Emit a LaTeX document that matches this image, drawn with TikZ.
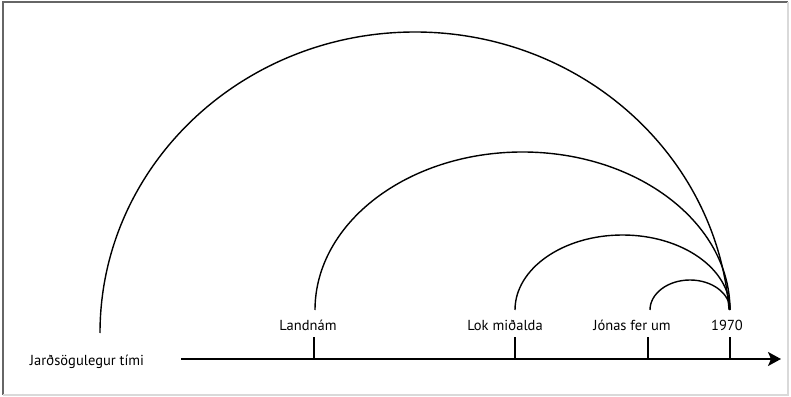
\documentclass[tikz,border=0pt]{standalone}
\usepackage{fontspec}
\setmainfont{PT Sans}
\usetikzlibrary{arrows.meta}

\begin{document}
\begin{tikzpicture}[x=1pt, y=1pt,
  lbl/.style={font=\fontsize{14.5}{16}\selectfont, inner sep=0pt, anchor=base},
  axisline/.style={-{Stealth[length=13pt, width=14pt, inset=3pt]}, line width=1.8pt},
  tickmark/.style={line width=1.6pt},
  bow/.style={line width=1.4pt},
  frameline/.style={line width=1.4pt}
]
\useasboundingbox (0,0) rectangle (791,396);
% frame
\draw[frameline, draw=black!60] (3,1) -- (3,394) -- (788,394);
\draw[frameline, draw=black!15] (3,1) -- (788,1) -- (788,394);

% time axis
\node[lbl] (geo) at (87,31) {Jarðsögulegur tími};
\coordinate (start) at (181,37);
\coordinate (stop) at (781,37);
\draw[axisline] (start) -- (stop);

% events on the axis
\coordinate (landnam) at (314,37);
\coordinate (midald) at (515,37);
\coordinate (jonas) at (648,37);
\coordinate (now) at (730,37);
\foreach \p in {landnam, midald, jonas, now}
  \draw[tickmark] (\p) -- ++(0,22);

\node[lbl] (landnamlbl) at (308,66) {Landnám};
\node[lbl] (midaldlbl) at (505,66) {Lok miðalda};
\node[lbl] (jonaslbl) at (632,66) {Jónas fer um};
\node[lbl] (nowlbl) at (727,66) {1970};

% arcs back from 1970
\coordinate (geotop) at (100,63);
\coordinate (landtop) at (315,86);
\coordinate (midtop) at (515,86);
\coordinate (jontop) at (650,86);
\draw[bow] (geotop) arc[start angle=180, end angle=4.4, x radius=315, y radius=301];
\draw[bow] (landtop) arc[start angle=180, end angle=0, x radius=207.5, y radius=158];
\draw[bow] (midtop) arc[start angle=180, end angle=0, x radius=107.5, y radius=75];
\draw[bow] (jontop) arc[start angle=180, end angle=0, x radius=40, y radius=30];

\end{tikzpicture}
\end{document}
